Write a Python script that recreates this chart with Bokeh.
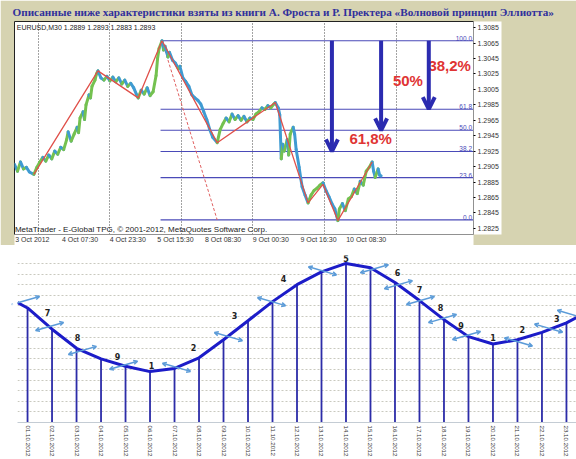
import numpy as np
from bokeh.plotting import figure
from bokeh.models import (FixedTicker, PrintfTickFormatter, Arrow, OpenHead,
                          ColumnDataSource)
from bokeh.core.properties import value
from bokeh.embed import file_html
from bokeh.resources import INLINE

# ---------------- data: top (MetaTrader screenshot) ----------------
TITLE = "Описанные ниже характеристики взяты из книги А. Фроста и  Р. Пректера «Волновой принцип Эллиотта»"
HEADER = "EURUSD,M30  1.2889 1.2893 1.2883 1.2893"
COPYRIGHT = "MetaTrader - E-Global TPG, © 2001-2012, MetaQuotes Software Corp."

price_bars = [0, 2, 4, 6, 8, 10, 13, 15, 17, 19, 21, 23, 25, 27, 29, 31, 33, 35, 36, 38,
              40, 42, 43, 44, 46, 47, 48, 50, 51, 52, 54, 55, 56, 58, 60, 62, 64, 66, 68, 70,
              72, 74, 76, 78, 80, 82, 83, 85, 87, 89, 91, 93, 95, 96, 97, 99, 100, 101, 103, 104,
              106, 108, 110, 111, 113, 115, 117, 119, 121, 123, 125, 127, 129, 131, 133, 136, 138, 140, 142, 144,
              146, 148, 150, 152, 154, 156, 158, 160, 162, 164, 166, 168, 170, 172, 174, 175, 177, 178, 179, 180,
              181, 183, 184, 185, 187, 188, 189, 191, 192, 193, 195, 197, 199, 201, 203, 205, 207, 209, 211, 213,
              215, 217, 218, 220, 222, 224, 226, 228, 230, 232, 234, 236, 238, 240, 241, 242, 244, 245, 246]
price_close = [1.2908, 1.2899, 1.2911, 1.2902, 1.2904, 1.2898, 1.2895, 1.2904, 1.2911, 1.2917,
               1.2912, 1.2920, 1.2915, 1.2925, 1.2921, 1.2930, 1.2927, 1.2940, 1.2950, 1.2938,
               1.2947, 1.2956, 1.2949, 1.2968, 1.2976, 1.2966, 1.2985, 1.2998, 1.2994, 1.3009,
               1.3017, 1.3025, 1.3029, 1.3020, 1.3017, 1.3022, 1.3016, 1.3021, 1.3015, 1.3020,
               1.3012, 1.3017, 1.3009, 1.3013, 1.3007, 1.2998, 1.2994, 1.3004, 1.2999, 1.3007,
               1.2997, 1.3002, 1.3023, 1.3045, 1.3058, 1.3068, 1.3056, 1.3061, 1.3047, 1.3053,
               1.3043, 1.3039, 1.3032, 1.3035, 1.3020, 1.3015, 1.3009, 1.2998, 1.2994, 1.2991,
               1.2986, 1.2976, 1.2966, 1.2953, 1.2943, 1.2936, 1.2953, 1.2961, 1.2968, 1.2963,
               1.2973, 1.2966, 1.2971, 1.2965, 1.2970, 1.2963, 1.2968, 1.2966, 1.2973, 1.2976,
               1.2981, 1.2979, 1.2984, 1.2981, 1.2986, 1.2988, 1.2981, 1.2972, 1.2915, 1.2934,
               1.2925, 1.2940, 1.2920, 1.2947, 1.2956, 1.2947, 1.2927, 1.2904, 1.2891, 1.2879,
               1.2868, 1.2858, 1.2868, 1.2874, 1.2877, 1.2881, 1.2884, 1.2874, 1.2866, 1.2857,
               1.2850, 1.2835, 1.2850, 1.2857, 1.2848, 1.2863, 1.2866, 1.2876, 1.2870, 1.2886,
               1.2881, 1.2899, 1.2904, 1.2911, 1.2899, 1.2891, 1.2902, 1.2894, 1.2893]

zigzag_bars = [13, 56, 83, 99, 136, 175, 197, 207, 217, 240]
zigzag_price = [1.2895, 1.3029, 1.2994, 1.3068, 1.2936, 1.2988, 1.2858, 1.2882, 1.2835, 1.2911]

fib_high = 1.3068
fib_low = 1.2836
fib_anchor_bars = [99, 136]
fib_start_bar = 98
fib_levels = [100.0, 61.8, 50.0, 38.2, 23.6, 0.0]
fib_level_labels = ["100.0", "61.8", "50.0", "38.2", "23.6", "0.0"]

price_ticks = [1.3085, 1.3065, 1.3045, 1.3025, 1.3005, 1.2985, 1.2965, 1.2945,
               1.2925, 1.2905, 1.2885, 1.2865, 1.2845, 1.2825]
date_tick_bars = [0, 32, 64, 96, 128, 160, 192, 224]
date_tick_labels = ["3 Oct 2012", "4 Oct 07:30", "4 Oct 23:30", "5 Oct 15:30",
                    "8 Oct 08:30", "9 Oct 00:30", "9 Oct 16:30", "10 Oct 08:30"]
grid_bars = [16, 64, 112, 160, 208, 256]

arrow_bars = [213, 246, 278]
arrow_target_levels = [38.2, 50.0, 61.8]
pct_labels = ["61,8%", "50%", "38,2%"]
pct_label_bars = [239, 264, 292]
pct_label_prices = [1.2941, 1.3017, 1.3036]

# ---------------- data: bottom (wave curve) ----------------
dates = ["01.10.2012", "02.10.2012", "03.10.2012", "04.10.2012", "05.10.2012", "06.10.2012",
         "07.10.2012", "08.10.2012", "09.10.2012", "10.10.2012", "11.10.2012", "12.10.2012",
         "13.10.2012", "14.10.2012", "15.10.2012", "16.10.2012", "17.10.2012", "18.10.2012",
         "19.10.2012", "20.10.2012", "21.10.2012", "22.10.2012", "23.10.2012"]
wave_values = [10.8, 8.8, 7.0, 6.0, 5.3, 4.8, 5.1, 6.1, 7.8, 9.6, 11.4, 13.0,
               14.2, 15.0, 14.6, 13.2, 11.5, 9.7, 8.1, 7.4, 7.8, 8.5, 9.4]
wave_left_edge_value = 11.3
wave_right_edge_value = 9.9

wave_label_text = ["7", "8", "9", "1", "2", "3", "4", "5", "6", "7", "8", "9", "1", "2", "3"]
wave_label_x = [0.82, 2.04, 3.67, 5.06, 6.78, 8.45, 10.45, 13.0, 15.1, 16.0, 16.86, 17.7, 19.0, 20.2, 21.6]
wave_label_y = [10.4, 8.0, 6.2, 5.4, 7.1, 10.1, 13.6, 15.5, 14.1, 12.5, 10.85, 9.15, 8.0, 8.8, 9.8]

marker_x = [-0.08, 0.9, 2.24, 3.92, 6.08, 8.2, 9.96, 12.04, 14.16, 15.14, 16.04, 16.94, 17.92, 20.04, 21.27, 22.2]
marker_y = [11.5, 9.06, 6.8, 5.4, 5.2, 8.1, 11.4, 14.3, 14.5, 13.0, 11.5, 9.8, 8.2, 7.6, 8.9, 10.2]
marker_tilt = [1, 1, 1, 1, -1, -1, -1, -1, 1, 1, 1, 1, 1, -1, -1, -1]

# ---------------- styles ----------------
KHAKI = "#d6d3b1"
PRICE_LO, PRICE_HI = 1.2817, 1.3093
BAR_LO, BAR_HI = 0, 308
FIB_BLUE = "#4a4ab8"
ARROW_BLUE = "#2b2bb0"
PCT_RED = "#e03434"

# ---------------- top figure ----------------
top = figure(width=576, height=245, x_range=(BAR_LO, BAR_HI), y_range=(PRICE_LO, PRICE_HI),
             output_backend="svg", toolbar_location=None, y_axis_location="right",
             min_border_left=14, min_border_right=103, min_border_top=0, min_border_bottom=9,
             background_fill_color="white", border_fill_color=KHAKI,
             outline_line_color="#222222", outline_line_width=1, title=TITLE)
top.title.text_font = "Liberation Serif"
top.title.text_font_style = "bold"
top.title.text_font_size = "11.2px"
top.title.text_color = "#30309c"
top.title.offset = -2
top.title.standoff = 7

top.ygrid.visible = False
top.xgrid.ticker = FixedTicker(ticks=grid_bars)
top.xgrid.grid_line_color = "#333333"
top.xgrid.grid_line_dash = "1 2"
top.xgrid.grid_line_alpha = 0.9

top.yaxis.ticker = FixedTicker(ticks=price_ticks)
top.yaxis.formatter = PrintfTickFormatter(format="%.4f")
top.yaxis.major_label_text_font = "Liberation Sans"
top.yaxis.major_label_text_font_size = "7px"
top.yaxis.major_label_text_color = "#333333"
top.yaxis.major_tick_out = 2
top.yaxis.major_tick_in = 0
top.yaxis.minor_tick_out = 0
top.yaxis.minor_tick_in = 0
top.yaxis.major_label_standoff = 2
top.yaxis.axis_line_color = None

# MetaTrader writes each date to the right of its tick: place label centres accordingly
top.xaxis.ticker = FixedTicker(ticks=[b + 12 for b in date_tick_bars])
top.xaxis.major_label_overrides = {b + 12: t for b, t in zip(date_tick_bars, date_tick_labels)}
top.xaxis.major_label_text_font = "Liberation Sans"
top.xaxis.major_label_text_font_size = "7px"
top.xaxis.major_label_text_color = "#333333"
top.xaxis.major_tick_out = 0
top.xaxis.major_tick_in = 0
top.xaxis.minor_tick_out = 0
top.xaxis.minor_tick_in = 0
top.xaxis.major_label_standoff = 1
top.xaxis.axis_line_color = None
for ax in (top.xaxis, top.yaxis):
    try:
        ax.background_fill_color = "white"
    except Exception:
        pass

# fib lines
fib_prices = [fib_low + lv / 100.0 * (fib_high - fib_low) for lv in fib_levels]
top.segment(x0=[fib_start_bar] * len(fib_prices), y0=fib_prices,
            x1=[BAR_HI] * len(fib_prices), y1=fib_prices,
            line_color=FIB_BLUE, line_width=1.1)
top.text(x=[BAR_HI - 1] * len(fib_prices), y=fib_prices, text=fib_level_labels,
         text_align="right", text_baseline="bottom", text_font=value("Liberation Sans"),
         text_font_size="6.5px", text_color=FIB_BLUE)

# fib anchor (thin dotted red)
top.line(x=fib_anchor_bars, y=[fib_high, fib_low], line_color="#e06060",
         line_width=1, line_dash="3 2")

# price path: segments coloured by direction
pb = np.array(price_bars, dtype=float)
pc = np.array(price_close, dtype=float)
up = pc[1:] >= pc[:-1]
seg_colors = np.where(up, "#74c150", "#3f9bd2")
top.segment(x0=pb[:-1], y0=pc[:-1], x1=pb[1:], y1=pc[1:], line_color=seg_colors,
            line_width=3, line_cap="round")

# zigzag
top.line(x=zigzag_bars, y=zigzag_price, line_color="#e0504a", line_width=1.3)

# header & copyright
top.text(x=[1.5], y=[PRICE_HI], text=[HEADER], text_baseline="top", y_offset=2,
         text_font=value("Liberation Sans"), text_font_size="7px", text_color="#222222")
top.text(x=[0.3], y=[PRICE_LO], text=[COPYRIGHT], text_baseline="bottom", y_offset=-1,
         text_font=value("Liberation Sans"), text_font_size="8px", text_color="#222222")

# big blue arrows
for b, lv in zip(arrow_bars, arrow_target_levels):
    target = fib_low + lv / 100.0 * (fib_high - fib_low)
    top.add_layout(Arrow(x_start=b, y_start=fib_high, x_end=b, y_end=target,
                         line_color=ARROW_BLUE, line_width=4,
                         end=OpenHead(size=12, line_color=ARROW_BLUE, line_width=4)))

top.text(x=pct_label_bars, y=pct_label_prices, text=pct_labels, text_align="center",
         text_baseline="middle", text_font=value("Liberation Sans"), text_font_style="bold",
         text_font_size="15px", text_color=PCT_RED)

# ---------------- bottom figure ----------------
XL, XR = -0.41, 22.41
bot = figure(width=576, height=214, x_range=(XL, XR), y_range=(0, 15.75),
             output_backend="svg", toolbar_location=None,
             min_border_left=17, min_border_right=0, min_border_top=10, min_border_bottom=37,
             background_fill_color="white", border_fill_color="white",
             outline_line_color=None)
bot.yaxis.visible = False
bot.xgrid.visible = False
bot.ygrid.ticker = FixedTicker(ticks=list(range(16)))
bot.ygrid.grid_line_color = "#c9c9bf"
bot.ygrid.grid_line_dash = "2 2"

idx = list(range(len(dates)))
bot.xaxis.ticker = FixedTicker(ticks=idx)
bot.xaxis.major_label_overrides = {i: d for i, d in zip(idx, dates)}
bot.xaxis.major_label_orientation = "vertical"
bot.xaxis.major_label_text_font = "Liberation Sans"
bot.xaxis.major_label_text_font_size = "6.2px"
bot.xaxis.major_label_text_color = "#333333"
bot.xaxis.major_tick_out = 0
bot.xaxis.major_tick_in = 0
bot.xaxis.minor_tick_out = 0
bot.xaxis.minor_tick_in = 0
bot.xaxis.major_label_standoff = 3
bot.xaxis.axis_line_color = "#c4ccd4"

# drop lines
bot.segment(x0=idx, y0=[0] * len(idx), x1=idx, y1=wave_values,
            line_color="#2c2ca8", line_width=1.8)

# curve
cx = [XL] + idx + [XR]
cy = [wave_left_edge_value] + wave_values + [wave_right_edge_value]
bot.line(x=cx, y=cy, line_color="#1c1cc8", line_width=3)

# small light-blue double arrows
mx = np.array(marker_x)
my = np.array(marker_y)
mt = np.array(marker_tilt)
msrc = ColumnDataSource(dict(x0=mx - 0.57, y0=my - 0.38 * mt, x1=mx + 0.57, y1=my + 0.38 * mt))
bot.add_layout(Arrow(source=msrc, x_start="x0", y_start="y0", x_end="x1", y_end="y1",
                     line_color="#5b9bd8", line_width=1.5,
                     start=OpenHead(size=4, line_color="#5b9bd8", line_width=1.5),
                     end=OpenHead(size=4, line_color="#5b9bd8", line_width=1.5)))

# wave count labels
bot.text(x=wave_label_x, y=wave_label_y, text=wave_label_text, text_align="center",
         text_baseline="middle", text_font=value("DejaVu Sans"), text_font_style="bold",
         text_font_size="8px", text_color="#222222")

open("out.html", "w").write(file_html([top, bot], INLINE))
